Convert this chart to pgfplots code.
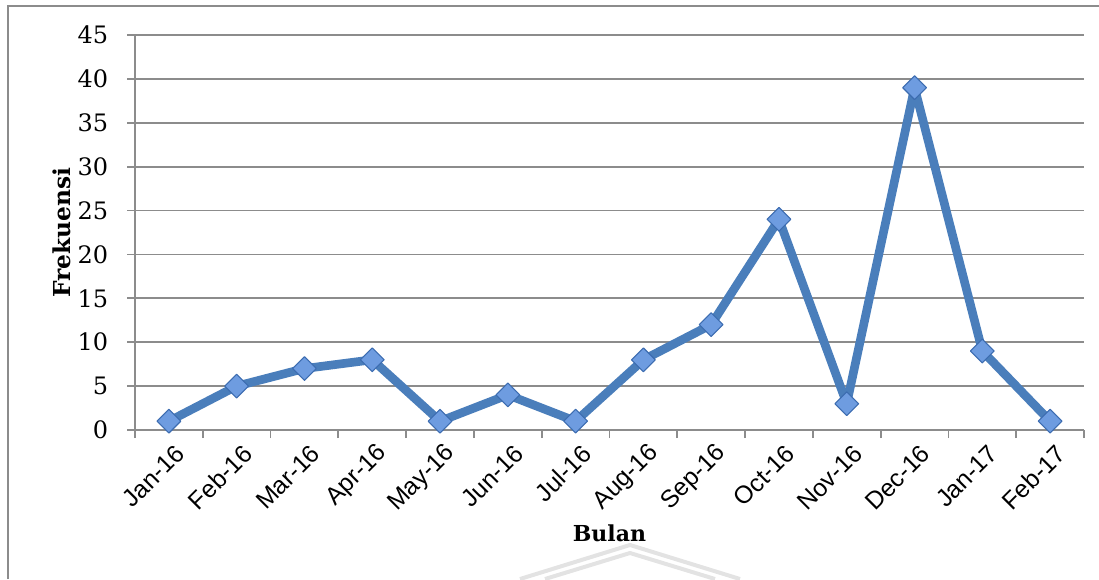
\documentclass[border=0pt]{standalone}
\usepackage{fontspec}
\setmainfont{DejaVu Serif}
\newfontfamily\sansf{Liberation Sans}
\usepackage{pgfplots}
\pgfplotsset{compat=1.18}
\definecolor{lineblue}{HTML}{4A7EBB}
\definecolor{markfill}{HTML}{6E9CE0}
\definecolor{markdraw}{HTML}{3C6CB0}
\definecolor{gridgray}{HTML}{8C8C8C}
\begin{document}
\begin{tikzpicture}[x=0.75pt,y=0.75pt]
\useasboundingbox (0,0) rectangle (1099,579);
\draw[gridgray, line width=1.3pt] (8,0) -- (8,573) -- (1099,573);
% faint watermark
\draw[gray!22, line width=3pt, line join=round] (520,0) -- (630,34) -- (740,0);
\draw[gray!22, line width=3pt, line join=round] (545,0) -- (630,26) -- (715,0);
\begin{axis}[
  at={(101.25pt,111.75pt)}, anchor=south west,
  scale only axis, width=711.75pt, height=296.25pt,
  xmin=-0.5, xmax=13.5, ymin=0, ymax=45,
  ytick={0,5,...,45},
  xtick={0,...,13},
  xticklabels={Jan-16,Feb-16,Mar-16,Apr-16,May-16,Jun-16,Jul-16,Aug-16,Sep-16,Oct-16,Nov-16,Dec-16,Jan-17,Feb-17},
  minor xtick={-0.5,0.5,...,13.5},
  major x tick style={draw=none},
  ymajorgrids, grid style={gridgray, line width=1.3pt},
  axis x line*=bottom, axis y line*=left,
  axis line style={gridgray, line width=1.3pt, -},
  tick style={gridgray, line width=1.3pt},
  tick align=outside,
  major tick length=6pt, minor tick length=6pt,
  /pgf/number format/assume math mode=true,
  yticklabel style={font=\fontsize{18}{20}\selectfont, anchor=east, inner sep=0pt, xshift=-14pt},
  xticklabel style={font=\sansf\fontsize{18.5}{20}\selectfont, rotate=45, anchor=east, inner sep=0pt, yshift=-12pt},
  xticklabel shift=0pt, yticklabel shift=0pt,
  xlabel={Bulan}, ylabel={Frekuensi},
  xlabel style={at={(axis description cs:0.5,-0.261)}, anchor=center, font=\bfseries\fontsize{16.5}{18}\selectfont},
  ylabel style={at={(axis description cs:-0.0769,0.5)}, anchor=center, font=\bfseries\fontsize{17.5}{19}\selectfont},
  clip=false,
]
\addplot[lineblue, line width=6.5pt, line join=round, mark=square*, mark size=6.3pt,
  mark options={rotate=45, fill=markfill, draw=markdraw, line width=0.8pt, solid}]
  coordinates {(0,1)(1,5)(2,7)(3,8)(4,1)(5,4)(6,1)(7,8)(8,12)(9,24)(10,3)(11,39)(12,9)(13,1)};
\end{axis}
\end{tikzpicture}
\end{document}
